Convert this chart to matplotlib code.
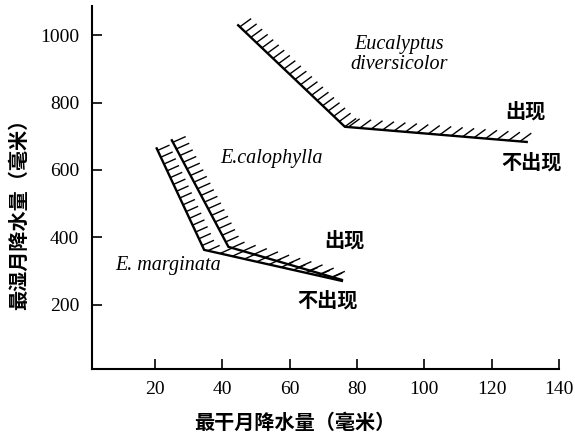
import numpy as np
import matplotlib
matplotlib.use("Agg")
import matplotlib.pyplot as plt

# threshold lines: driest-month rain (x) vs wettest-month rain (y), mm
diversicolor_x = [44.7, 76.4, 130.4]
diversicolor_y = [1029, 728, 683]
calophylla_x = [25.0, 41.8, 75.5]
calophylla_y = [688, 372, 274]
marginata_x = [20.5, 34.6, 75.5]
marginata_y = [664, 363, 271]

x_ticks = [20, 40, 60, 80, 100, 120, 140]
y_ticks = [200, 400, 600, 800, 1000]

cjk = ["Noto Sans CJK SC", "DejaVu Sans"]
serif = "Liberation Serif"

fig = plt.figure(figsize=(5.75, 4.32), dpi=100)
ax = fig.add_axes([0.1595, 0.146, 0.8127, 0.84])
ax.set_xlim(1.2, 140)
ax.set_ylim(10, 1086)

for s in ["top", "right"]:
    ax.spines[s].set_visible(False)
for s in ["left", "bottom"]:
    ax.spines[s].set_linewidth(1.5)

ax.set_xticks(x_ticks)
ax.set_yticks(y_ticks)
ax.tick_params(direction="in", length=7, width=1.2, labelsize=14)
ax.tick_params(axis="x", pad=9)
ax.tick_params(axis="y", pad=9)
for lab in ax.get_xticklabels() + ax.get_yticklabels():
    lab.set_fontfamily(serif)


def hatch(xs, ys, angle, length, gap):
    # short strokes on the "present" side, fixed direction, even spacing in pixels
    pts = ax.transData.transform(np.column_stack([xs, ys]))
    inv = ax.transData.inverted()
    d = np.array([np.cos(np.radians(angle)), np.sin(np.radians(angle))])
    for p0, p1 in zip(pts[:-1], pts[1:]):
        seg = p1 - p0
        L = np.hypot(*seg)
        u = seg / L
        step = gap / abs(u[0] * d[1] - u[1] * d[0])
        for t in np.arange(step * 0.3, L, step):
            base = p0 + u * t
            xy = inv.transform(np.array([base, base + d * length]))
            ax.plot(xy[:, 0], xy[:, 1], color="black", lw=1.0,
                    solid_capstyle="butt")


for xs, ys, ang, ln in [(diversicolor_x, diversicolor_y, 36, 14),
                        (calophylla_x, calophylla_y, 24, 14),
                        (marginata_x, marginata_y, 24, 13)]:
    ax.plot(xs, ys, color="black", lw=1.7, solid_joinstyle="miter")
    hatch(xs, ys, ang, ln, 7.5)

# species names
ax.text(92.5, 943, "Eucalyptus\ndiversicolor", family=serif, style="italic",
        fontsize=14.5, ha="center", va="center", linespacing=1.1)
ax.text(54.7, 635, "E.calophylla", family=serif, style="italic",
        fontsize=14.5, ha="center", va="center")
ax.text(24.0, 318, "E. marginata", family=serif, style="italic",
        fontsize=14.5, ha="center", va="center")

# present / absent side labels
for x, y, s in [(129.9, 774, "出现"), (131.7, 623, "不出现"),
                (76.1, 392, "出现"), (71.1, 214, "不出现")]:
    ax.text(x, y, s, family=cjk, weight="bold", fontsize=14.5,
            ha="center", va="center")

ax.set_xlabel("最干月降水量（毫米）", family=cjk, weight="bold", fontsize=14.5)
ax.xaxis.set_label_coords(0.435, -0.118)
ax.set_ylabel("最湿月降水量（毫米）", family=cjk, weight="bold", fontsize=14.5)
ax.yaxis.set_label_coords(-0.135, 0.44)

fig.savefig("out.png", dpi=100)
